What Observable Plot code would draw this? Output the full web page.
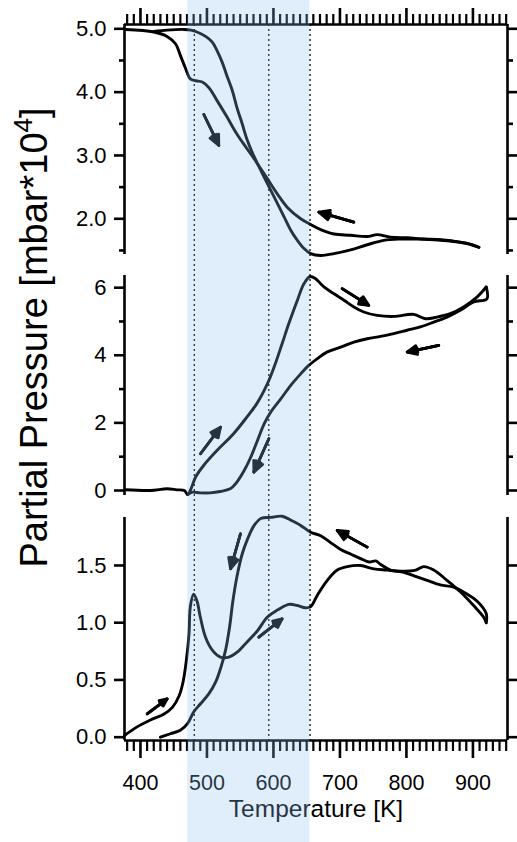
<!DOCTYPE html>
<html><head><meta charset="utf-8">
<script src="https://cdn.jsdelivr.net/npm/d3@7"></script>
<script src="https://cdn.jsdelivr.net/npm/@observablehq/plot@0.6"></script>
<style>
body{margin:0;background:#fff;}
#chart{position:relative;width:517px;height:842px;font-family:"Liberation Sans",Arial,sans-serif;}
#chart svg{position:absolute;left:0;overflow:visible;}
</style></head><body><div id="chart"></div>
<script>
// ---- x axis (Temperature, K) ----
const xDomain = [376, 952];
const temperatureTicks = [400, 500, 600, 700, 800, 900];
const temperatureMinor = d3.range(380, 951, 10).filter(t => t % 100 !== 0);
const bandT = [471, 655];
const dottedT = [481, 593, 655];
const xTitle = "Temperature [K]";
const yTitle = "Partial Pressure [mbar*10";
const yTitleSup = "4";

// ---- panel 1 (top) ----
const p1Domain = [1.436, 5.068];
const p1Ticks = [2, 3, 4, 5];
const p1Minor = [1.5, 2.5, 3.5, 4.5];
const p1CurveA = [[378,4.99],[420,4.95],[440,4.88],[453,4.76],[460,4.58],[468,4.37],[475,4.21],[483,4.18],[493,4.16],[503,4.07],[515,3.87],[530,3.61],[545,3.34],[560,3.11],[576,2.87],[591,2.63],[606,2.39],[621,2.18],[641,2.00],[656,1.91],[671,1.83],[691,1.76],[716,1.74],[741,1.72],[756,1.75],[776,1.71],[801,1.70],[826,1.68],[851,1.67],[876,1.64],[896,1.60],[909,1.55]];
const p1CurveB = [[420,4.96],[440,4.98],[465,4.99],[476,4.98],[485,4.95],[498,4.88],[508,4.79],[515,4.66],[523,4.47],[530,4.26],[538,4.03],[545,3.76],[553,3.50],[560,3.26],[568,3.05],[576,2.87],[586,2.66],[596,2.45],[606,2.24],[616,2.03],[626,1.82],[636,1.66],[646,1.53],[656,1.45],[671,1.42],[691,1.45],[716,1.51],[741,1.59],[766,1.66],[791,1.68],[816,1.68],[841,1.67],[866,1.65],[891,1.61],[909,1.55]];
const p1Arrows = [[495.3,3.647,517.9,3.158],[720.9,1.947,668.3,2.105]];

// ---- panel 2 (middle) ----
const p2Domain = [-0.148, 6.36];
const p2Ticks = [0, 2, 4, 6];
const p2Minor = [1, 3, 5];
const p2CurveC = [[377,0.02],[415,0.0],[440,0.05],[455,0.02],[466,0.0],[471,-0.12],[476,0.05],[483,0.40],[495,0.74],[515,1.18],[540,1.68],[560,2.17],[575,2.57],[591,3.16],[601,3.65],[613,4.34],[623,4.93],[636,5.63],[646,6.12],[655,6.33],[663,6.27],[676,6.02],[691,5.82],[706,5.63],[721,5.43],[736,5.28],[756,5.18],[781,5.15],[811,5.21],[829,5.08],[846,5.13],[866,5.23],[886,5.43],[906,5.72],[920,6.02]];
const p2CurveD = [[920,6.02],[921,5.67],[901,5.58],[881,5.33],[861,5.13],[841,4.98],[821,4.84],[801,4.74],[781,4.64],[761,4.56],[741,4.49],[721,4.39],[701,4.24],[681,4.10],[666,3.90],[653,3.70],[641,3.45],[626,3.11],[611,2.71],[596,2.32],[586,1.97],[576,1.48],[566,0.99],[556,0.59],[545,0.25],[535,0.05],[520,-0.03],[505,-0.07],[490,-0.07],[478,-0.05],[471,-0.12]];
const p2Arrows = [[490.3,1.086,520.4,1.875],[593.1,1.530,570.5,0.543],[703.3,5.970,743.4,5.477],[848.7,4.293,801.1,4.095]];

// ---- panel 3 (bottom) ----
const p3Domain = [-0.029, 1.919];
const p3Ticks = [0, 0.5, 1, 1.5];
const p3Minor = [];
const p3CurveE = [[376,0.015],[395,0.09],[415,0.15],[435,0.20],[448,0.26],[458,0.36],[464,0.48],[469,0.67],[473,0.90],[475,1.14],[480,1.25],[485,1.19],[490,1.05],[498,0.87],[508,0.76],[520,0.70],[533,0.70],[545,0.74],[560,0.83],[576,0.93],[591,1.05],[606,1.11],[623,1.16],[636,1.15],[648,1.13],[656,1.14],[666,1.24],[681,1.37],[696,1.46],[711,1.49],[731,1.50],[751,1.47],[771,1.46],[791,1.45],[814,1.46],[826,1.49],[841,1.46],[861,1.37],[881,1.27],[901,1.15],[916,1.05],[920,1.00]];
const p3CurveF = [[920,1.00],[920,1.08],[906,1.19],[891,1.25],[871,1.31],[851,1.33],[831,1.37],[816,1.40],[796,1.44],[776,1.46],[761,1.51],[754,1.54],[744,1.53],[731,1.56],[716,1.60],[701,1.64],[686,1.70],[671,1.76],[656,1.79],[641,1.85],[628,1.89],[613,1.93],[596,1.92],[581,1.91],[571,1.85],[561,1.73],[553,1.60],[545,1.40],[539,1.19],[534,0.96],[528,0.76],[521,0.61],[513,0.48],[503,0.38],[490,0.29],[480,0.22],[471,0.12],[460,0.06],[445,0.03],[430,0.0]];
const p3Arrows = [[410.1,0.204,440.2,0.335],[550.4,1.777,535.4,1.471],[578.0,0.874,613.1,1.034],[741.0,1.660,695.8,1.806]];

// ---- layout ----
const W = 517, H = 842, ML = 124, MR = 10;
const FONT = "'Liberation Sans', Arial, sans-serif";
const baseStyle = {background: "transparent", overflow: "visible", fontFamily: FONT};
const chart = document.getElementById("chart");
function place(svg, top) { svg.style.top = top + "px"; chart.appendChild(svg); }

function panel(o) {
  const sw = 2.6;
  const marks = [
    Plot.ruleX(xDomain, {stroke: "#000", strokeWidth: sw}),
    Plot.axisY(o.ticks, {anchor: "left", tickSize: 10, tickPadding: 8, tickFormat: d3.format(o.fmt), fontSize: 22, strokeWidth: sw, label: null}),
    Plot.axisY(o.ticks, {anchor: "right", tickSize: 10, tickFormat: () => "", strokeWidth: sw, label: null})
  ];
  if (o.minor.length) {
    marks.push(Plot.axisY(o.minor, {anchor: "left", tickSize: 5, tickFormat: () => "", strokeWidth: sw, label: null}));
    marks.push(Plot.axisY(o.minor, {anchor: "right", tickSize: 5, tickFormat: () => "", strokeWidth: sw, label: null}));
  }
  if (o.top) {
    marks.push(Plot.ruleY([o.domain[1]], {stroke: "#000", strokeWidth: sw}));
    marks.push(Plot.axisX(temperatureTicks, {anchor: "top", tickSize: 17, tickFormat: () => "", strokeWidth: sw, label: null}));
    marks.push(Plot.axisX(temperatureMinor, {anchor: "top", tickSize: 11, tickFormat: () => "", strokeWidth: 2.2, label: null}));
  }
  if (o.bottom) {
    marks.push(Plot.ruleY([o.domain[0]], {stroke: "#000", strokeWidth: sw}));
    marks.push(Plot.axisX(temperatureTicks, {anchor: "bottom", tickSize: 18, tickPadding: 16, fontSize: 21.5, strokeWidth: sw, label: null}));
    marks.push(Plot.axisX(temperatureMinor, {anchor: "bottom", tickSize: 11, tickFormat: () => "", strokeWidth: 2.2, label: null}));
    marks.push(Plot.text([xTitle], {frameAnchor: "bottom", dy: 76, lineAnchor: "bottom", fontSize: 24.5, fill: "#000"}));
  }
  for (const c of o.curves) {
    marks.push(Plot.line(c, {x: d => d[0], y: d => d[1], stroke: "#000", strokeWidth: 2.9, curve: "catmull-rom", strokeLinejoin: "round", strokeLinecap: "round"}));
  }
  const arrowOpts = {x1: d => d[0], y1: d => d[1], x2: d => d[2], y2: d => d[3], stroke: "#000", strokeWidth: 2.7, headLength: 6.5};
  marks.push(Plot.arrow(o.arrows, {...arrowOpts, headAngle: 50}));
  marks.push(Plot.arrow(o.arrows, {...arrowOpts, headAngle: 28}));
  marks.push(Plot.arrow(o.arrows, {...arrowOpts, headAngle: 12}));
  const xOpts = {domain: xDomain, label: null};
  if (!o.top && !o.bottom) xOpts.axis = null;
  return Plot.plot({
    width: W, height: o.svgBottom - o.svgTop,
    marginLeft: ML, marginRight: MR,
    marginTop: o.frameTop - o.svgTop, marginBottom: o.svgBottom - o.frameBottom,
    x: xOpts, y: {domain: o.domain, label: null},
    style: baseStyle, marks
  });
}

// dotted guide lines (under curves)
place(Plot.plot({
  width: W, height: H, marginLeft: ML, marginRight: MR, marginTop: 24, marginBottom: H - 740,
  x: {domain: xDomain, axis: null}, style: baseStyle,
  marks: [Plot.ruleX(dottedT, {stroke: "#000", strokeWidth: 1.3, strokeDasharray: "2,3"})]
}), 0);

place(panel({svgTop: 0, frameTop: 24, frameBottom: 254, svgBottom: 268, domain: p1Domain, ticks: p1Ticks, minor: p1Minor, fmt: ".1f", curves: [p1CurveA, p1CurveB], arrows: p1Arrows, top: true}), 0);
place(panel({svgTop: 257, frameTop: 275, frameBottom: 495, svgBottom: 507, domain: p2Domain, ticks: p2Ticks, minor: p2Minor, fmt: "d", curves: [p2CurveC, p2CurveD], arrows: p2Arrows}), 257);
place(panel({svgTop: 499, frameTop: 517, frameBottom: 740, svgBottom: H, domain: p3Domain, ticks: p3Ticks, minor: p3Minor, fmt: ".1f", curves: [p3CurveE, p3CurveF], arrows: p3Arrows, bottom: true}), 499);

// y title + translucent band overlay (on top)
const overlay = Plot.plot({
  width: W, height: H, marginLeft: ML, marginRight: MR, marginTop: 0, marginBottom: 0,
  x: {domain: xDomain, axis: null}, style: baseStyle,
  marks: [
    Plot.text([yTitle], {frameAnchor: "left", dx: -78, dy: -84, rotate: -90, lineAnchor: "bottom", textAnchor: "middle", fontSize: 38, fill: "#000"}),
    Plot.barX([bandT], {x1: d => d[0], x2: d => d[1], fill: "rgb(140,190,242)", fillOpacity: 0.27})
  ]
});
place(overlay, 0);
d3.select(overlay).selectAll("text").filter(function () { return this.textContent === yTitle; }).each(function () {
  const t = d3.select(this);
  t.text(null);
  t.append("tspan").text(yTitle);
  t.append("tspan").attr("dy", "-15").attr("font-size", "26").text(yTitleSup);
  t.append("tspan").attr("dy", "15").text("]");
});
</script></body></html>
